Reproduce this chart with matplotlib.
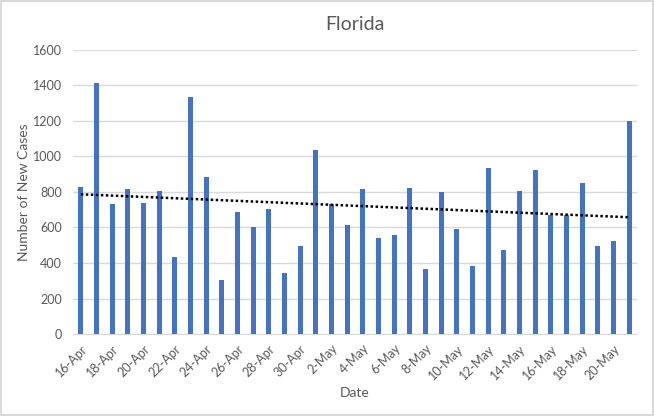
# -*- coding: utf-8 -*-
import numpy as np
import pandas as pd
import matplotlib.pyplot as plt
from matplotlib import ticker

dates = pd.date_range('2020-04-16', '2020-05-21', freq='D')
labels = [f'{d.day}-{d.strftime("%b")}' for d in dates]
new_cases = [830, 1416, 734, 817, 740, 808, 436, 1337, 886, 306,
             689, 605, 706, 346, 498, 1038, 734, 616, 817, 543,
             560, 824, 368, 802, 593, 385, 937, 475, 808, 926,
             672, 672, 853, 498, 526, 1202]

txt = '#595959'
grid = '#D9D9D9'
plt.rcParams['font.family'] = ['Lato', 'DejaVu Sans']

fig = plt.figure(figsize=(6.54, 4.16), dpi=100, edgecolor=grid, linewidth=1.5)
ax = fig.add_axes([0.1116, 0.197, 0.8624, 0.683])

x = np.arange(len(new_cases))
ax.bar(x, new_cases, width=0.32, color='#4472C4', zorder=3)

# linear trendline like excel
k, b = np.polyfit(x, new_cases, 1)
ax.plot([x[0], x[-1]], [k * x[0] + b, k * x[-1] + b], color='black',
        linestyle=(0, (1, 1)), linewidth=1.8, zorder=4)

ax.set_xlim(-0.5, len(new_cases) - 0.5)
ax.set_ylim(0, 1600)
ax.yaxis.set_major_locator(ticker.MultipleLocator(200))
ax.grid(axis='y', color=grid, linewidth=1, zorder=0)

ax.set_xticks(x[::2])
ax.set_xticklabels(labels[::2], rotation=45, ha='right', rotation_mode='anchor')
ax.tick_params(axis='x', length=0, pad=6, labelsize=9, labelcolor=txt)
ax.tick_params(axis='y', length=0, pad=8, labelsize=9, labelcolor=txt)

for s in ['top', 'right', 'left']:
    ax.spines[s].set_visible(False)
ax.spines['bottom'].set_color(grid)

ax.set_title('Florida', fontsize=14, color=txt, pad=14)
ax.set_xlabel('Date', fontsize=10, color=txt, labelpad=4)
ax.set_ylabel('Number of New Cases', fontsize=10, color=txt, labelpad=2)

plt.savefig('out.png', dpi=100, edgecolor=grid)
